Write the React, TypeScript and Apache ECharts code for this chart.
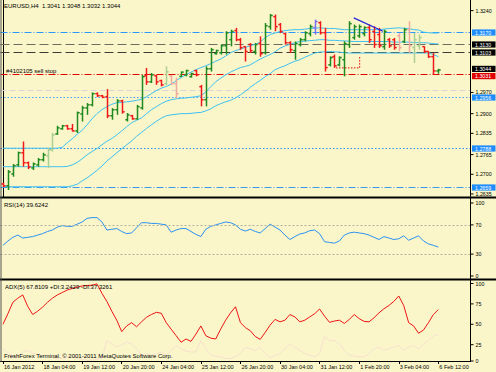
import React, { useEffect, useRef } from 'react';
import * as echarts from 'echarts';

const FONT = "'Liberation Sans', Arial, sans-serif";
const BG = '#faf6c9';

const SLOT_COUNT = 95;
const timeTickLabels = ['16 Jan 2012', '18 Jan 04:00', '19 Jan 12:00', '20 Jan 20:00', '24 Jan 04:00', '25 Jan 12:00', '26 Jan 20:00', '30 Jan 04:00', '31 Jan 12:00', '1 Feb 20:00', '3 Feb 04:00', '6 Feb 12:00'];
const BARS_PER_TIME_TICK = 8;
// visible price scale labels (1.3170, 1.3105 and 1.3040 sit under the level boxes)
const priceTickLabels = ['1.3240', '1.2970', '1.2900', '1.2835', '1.2765', '1.2700', '1.2635'];
const rsiTickLabels = [100, 70, 30, 0];
const rsiLevels = [30, 70];
const adxTickLabels = [100, 75, 50, 25];

const barOpen = [1.2668, 1.2662, 1.2701, 1.2731, 1.2771, 1.2738, 1.2721, 1.2731, 1.2748, 1.2761,
  1.2781, 1.2833, 1.2850, 1.2860, 1.2850, 1.2843, 1.2899, 1.2919, 1.2929, 1.2966,
  1.2959, 1.2956, 1.2893, 1.2913, 1.2942, 1.2880, 1.2893, 1.2883, 1.2919, 1.3025,
  1.3005, 1.3025, 1.3009, 1.2999, 1.3025, 1.2999, 1.3023, 1.3028, 1.3022, 1.3042,
  1.2989, 1.2946, 1.3048, 1.3098, 1.3101, 1.3124, 1.3144, 1.3174, 1.3144, 1.3121,
  1.3128, 1.3105, 1.3131, 1.3101, 1.3187, 1.3220, 1.3194, 1.3164, 1.3134, 1.3108,
  1.3128, 1.3144, 1.3164, 1.3184, 1.3200, 1.3167, 1.3061, 1.3088, 1.3061, 1.3078,
  1.3128, 1.3151, 1.3157, 1.3164, 1.3184, 1.3171, 1.3161, 1.3121, 1.3144, 1.3144,
  1.3157, 1.3138, 1.3177, 1.3118, 1.3124, 1.3121, 1.3105, 1.3088, 1.3041];
const barHigh = [1.2672, 1.2714, 1.2734, 1.2775, 1.2808, 1.2742, 1.2739, 1.2754, 1.2771, 1.2787,
  1.2837, 1.2860, 1.2863, 1.2863, 1.2866, 1.2907, 1.2926, 1.2935, 1.2970, 1.2970,
  1.2962, 1.2981, 1.2918, 1.2948, 1.2946, 1.2902, 1.2896, 1.2929, 1.3028, 1.3051,
  1.3034, 1.3028, 1.3012, 1.3056, 1.3028, 1.3019, 1.3039, 1.3045, 1.3035, 1.3045,
  1.2995, 1.3056, 1.3117, 1.3111, 1.3128, 1.3172, 1.3177, 1.3183, 1.3150, 1.3122,
  1.3133, 1.3133, 1.3155, 1.3199, 1.3229, 1.3227, 1.3199, 1.3167, 1.3139, 1.3138,
  1.3150, 1.3172, 1.3194, 1.3210, 1.3205, 1.3183, 1.3089, 1.3095, 1.3089, 1.3139,
  1.3205, 1.3194, 1.3194, 1.3188, 1.3194, 1.3188, 1.3183, 1.3177, 1.3150, 1.3150,
  1.3166, 1.3183, 1.3205, 1.3166, 1.3161, 1.3122, 1.3106, 1.3100, 1.3048];
const barLow = [1.2658, 1.2648, 1.2692, 1.2725, 1.2725, 1.2717, 1.2714, 1.2725, 1.2742, 1.2721,
  1.2775, 1.2830, 1.2847, 1.2847, 1.2841, 1.2836, 1.2874, 1.2896, 1.2924, 1.2955,
  1.2951, 1.2885, 1.2880, 1.2896, 1.2900, 1.2874, 1.2880, 1.2880, 1.2913, 1.2995,
  1.3001, 1.2995, 1.2990, 1.2995, 1.2995, 1.2951, 1.3022, 1.3023, 1.3019, 1.3023,
  1.2924, 1.2924, 1.3039, 1.3095, 1.3095, 1.3095, 1.3122, 1.3139, 1.3111, 1.3072,
  1.3100, 1.3095, 1.3088, 1.3095, 1.3177, 1.3172, 1.3166, 1.3128, 1.3100, 1.3078,
  1.3122, 1.3139, 1.3155, 1.3161, 1.3161, 1.3039, 1.3056, 1.3051, 1.3056, 1.3023,
  1.3117, 1.3144, 1.3150, 1.3155, 1.3133, 1.3117, 1.3117, 1.3111, 1.3117, 1.3111,
  1.3106, 1.3133, 1.3100, 1.3067, 1.3111, 1.3100, 1.3084, 1.3030, 1.3032];
const barClose = [1.2662, 1.2708, 1.2728, 1.2771, 1.2738, 1.2724, 1.2734, 1.2748, 1.2764, 1.2781,
  1.2830, 1.2853, 1.2860, 1.2850, 1.2843, 1.2903, 1.2919, 1.2929, 1.2966, 1.2959,
  1.2954, 1.2893, 1.2913, 1.2942, 1.2906, 1.2896, 1.2883, 1.2923, 1.3022, 1.3005,
  1.3028, 1.3005, 1.2995, 1.3038, 1.2999, 1.2966, 1.3037, 1.3042, 1.3032, 1.3028,
  1.2946, 1.3048, 1.3111, 1.3108, 1.3124, 1.3167, 1.3171, 1.3144, 1.3118, 1.3105,
  1.3108, 1.3128, 1.3098, 1.3190, 1.3224, 1.3187, 1.3171, 1.3134, 1.3111, 1.3131,
  1.3144, 1.3167, 1.3187, 1.3204, 1.3167, 1.3052, 1.3085, 1.3058, 1.3085, 1.3131,
  1.3197, 1.3187, 1.3187, 1.3184, 1.3144, 1.3128, 1.3124, 1.3171, 1.3124, 1.3118,
  1.3118, 1.3177, 1.3124, 1.3144, 1.3151, 1.3105, 1.3088, 1.3041, 1.3044];
const fadedBars = [9, 10, 33, 34, 35, 80, 82, 83, 84];
const highlightedBar = 63;

const bandUpper = [1.2786, 1.2786, 1.2786, 1.2786, 1.2786, 1.2786, 1.2786, 1.2786, 1.2786, 1.2786,
  1.2786, 1.2786, 1.2789, 1.2804, 1.2817, 1.2832, 1.2845, 1.2863, 1.2883, 1.2900,
  1.2913, 1.2923, 1.2931, 1.2936, 1.2937, 1.2939, 1.2941, 1.2944, 1.2947, 1.2956,
  1.2966, 1.2976, 1.2984, 1.2990, 1.2997, 1.3009, 1.3019, 1.3028, 1.3037, 1.3045,
  1.3052, 1.3058, 1.3065, 1.3073, 1.3080, 1.3090, 1.3101, 1.3108, 1.3113, 1.3119,
  1.3124, 1.3129, 1.3136, 1.3151, 1.3161, 1.3166, 1.3171, 1.3174, 1.3176, 1.3177,
  1.3177, 1.3179, 1.3181, 1.3182, 1.3183, 1.3182, 1.3181, 1.3181, 1.3179, 1.3177,
  1.3177, 1.3177, 1.3177, 1.3177, 1.3177, 1.3177, 1.3177, 1.3179, 1.3181, 1.3182,
  1.3183, 1.3182, 1.3181, 1.3177, 1.3176, 1.3169, 1.3167, 1.3166, 1.3166];
const bandMiddle = [1.2725, 1.2725, 1.2725, 1.2725, 1.2725, 1.2725, 1.2725, 1.2725, 1.2725, 1.2725,
  1.2725, 1.2725, 1.2725, 1.2726, 1.2731, 1.2739, 1.2751, 1.2764, 1.2775, 1.2785,
  1.2797, 1.2809, 1.2818, 1.2830, 1.2843, 1.2857, 1.2870, 1.2878, 1.2886, 1.2900,
  1.2913, 1.2923, 1.2933, 1.2941, 1.2946, 1.2949, 1.2951, 1.2952, 1.2954, 1.2956,
  1.2959, 1.2972, 1.2989, 1.3005, 1.3017, 1.3028, 1.3037, 1.3045, 1.3052, 1.3056,
  1.3061, 1.3071, 1.3080, 1.3088, 1.3095, 1.3104, 1.3116, 1.3123, 1.3129, 1.3134,
  1.3138, 1.3139, 1.3141, 1.3142, 1.3144, 1.3144, 1.3142, 1.3142, 1.3141, 1.3140,
  1.3139, 1.3138, 1.3138, 1.3138, 1.3138, 1.3138, 1.3138, 1.3138, 1.3138, 1.3136,
  1.3136, 1.3136, 1.3136, 1.3135, 1.3134, 1.3134, 1.3133, 1.3131, 1.3130];
const bandLower = [1.2659, 1.2659, 1.2659, 1.2659, 1.2659, 1.2659, 1.2659, 1.2659, 1.2659, 1.2659,
  1.2659, 1.2659, 1.2659, 1.2659, 1.2662, 1.2667, 1.2678, 1.2688, 1.2700, 1.2713,
  1.2727, 1.2744, 1.2757, 1.2771, 1.2784, 1.2797, 1.2810, 1.2825, 1.2838, 1.2851,
  1.2863, 1.2875, 1.2885, 1.2893, 1.2896, 1.2898, 1.2900, 1.2900, 1.2901, 1.2903,
  1.2904, 1.2909, 1.2916, 1.2926, 1.2933, 1.2939, 1.2944, 1.2952, 1.2962, 1.2974,
  1.2987, 1.2999, 1.3010, 1.3022, 1.3032, 1.3045, 1.3052, 1.3058, 1.3066, 1.3073,
  1.3078, 1.3086, 1.3093, 1.3100, 1.3103, 1.3104, 1.3105, 1.3104, 1.3103, 1.3101,
  1.3100, 1.3100, 1.3100, 1.3100, 1.3100, 1.3100, 1.3100, 1.3100, 1.3100, 1.3100,
  1.3100, 1.3100, 1.3100, 1.3100, 1.3100, 1.3100, 1.3100, 1.3095, 1.3088];

const rsiValues = [42, 48, 53, 56, 52, 53, 54, 56, 58, 61,
  63, 67, 69, 68, 68, 71, 74, 79, 80, 80,
  74, 63, 64, 65, 61, 58, 59, 66, 73, 73,
  72, 72, 71, 70, 60, 63, 65, 65, 61, 57,
  54, 64, 68, 70, 72, 74, 73, 70, 64, 61.6,
  64, 61, 59, 65, 71, 67, 63, 56, 50, 54,
  57.5, 59, 62, 63, 58, 47, 46, 45, 48, 56,
  59, 60, 59, 58, 56, 53, 50, 54, 52, 50,
  51, 55, 49, 52, 55, 48, 44, 42, 39.6];
const adxValues = [50, 63, 77, 82, 86, 72, 62, 66, 71, 77,
  82, 86, 89, 92, 94, 95.5, 97, 97.5, 98, 99.5,
  88, 78, 66, 55, 41, 48, 52, 47, 53, 58.5,
  62, 64.7, 63.5, 52, 44, 36, 28, 32, 29, 38,
  48, 36, 33, 32, 44, 55, 64, 71.5, 52, 46,
  42, 35, 31.5, 40, 49, 56, 53, 55, 62, 59,
  53, 55, 59, 63, 68.7, 60, 52.4, 54, 55, 51,
  56, 62, 57, 53.5, 53, 58, 64, 69, 73, 78,
  84.7, 73, 52, 48, 39, 43, 52, 62, 68];
const minusDiValues = [20, 15, 12, 10, 16, 18, 15, 13, 11, 12,
  9, 8, 8, 9, 10, 8, 7, 6, 6, 7,
  8, 30, 26, 22, 25, 28, 26, 20, 12, 14,
  12, 14, 16, 12, 18, 24, 20, 17, 16, 16,
  30, 20, 12, 11, 10, 8, 8, 10, 14, 22,
  20, 18, 22, 14, 9, 12, 14, 20, 26, 22,
  18, 14, 12, 10, 14, 35, 30, 30, 26, 18,
  12, 11, 10, 10, 14, 20, 22, 18, 20, 22,
  24, 18, 22, 24, 20, 26, 30, 36, 37.3];

const levelPrices = [1.3170, 1.3130, 1.3103, 1.3044, 1.3031, 1.2978, 1.2956, 1.2788, 1.2659];
const levelLabels = ['1.3170', '1.3130', '1.3103', '1.3044', '1.3031', '', '1.2956', '1.2788', '1.2659'];
const sellStopLevel = 4;
const sellStopText = '#4102105 sell stop';
const trendLine = [[70.9, 1.3216], [76.8, 1.3172]];
const tradeLine = [[67.3, 1.3051], [72.1, 1.3051], [72.1, 1.3089]];

const rsiHeader = 'RSI(14) 39.6242';
const adxHeader = 'ADX(5) 67.8109 +DI:3.2429 -DI:37.3261';
const footerText = 'FreshForex Terminal. \u00a9 2001-2011 MetaQuotes Software Corp.';

const BLUE_BOX = '#1e8cff';
const levelStyles = [
  { color: '#2c97ff', dash: [7, 2, 1, 2], box: BLUE_BOX, shift: 0 },
  { color: '#6e6e60', dash: [9, 4], box: '#000', shift: 0 },
  { color: '#3c3c34', dash: [9, 4], box: '#000', shift: 0 },
  { color: '', dash: null, box: '#000', shift: -1.6 },
  { color: '#e00000', dash: [7, 2, 1, 2], box: '#e00000', shift: 1.6 },
  { color: '#dcd3dc', dash: [6, 3], box: '', shift: 0 },
  { color: '#4aa2f5', dash: [1.5, 2], box: BLUE_BOX, shift: 0 },
  { color: '#2e8df0', dash: [1.5, 2], box: BLUE_BOX, shift: 0 },
  { color: '#3d9ae6', dash: [7, 2, 1, 2], box: BLUE_BOX, shift: 0 },
];

const tickRich = {
  t: { width: 3, height: 1, backgroundColor: '#000', fontSize: 1, lineHeight: 1 },
  v: { padding: [0, 0, 0, 2], fontSize: 5.3, color: '#000', fontFamily: FONT },
};
const tickFmt = (txt: string) => `{t| }{v|${txt}}`;

function buildOption() {
  const slots = Array.from({ length: SLOT_COUNT }, (_, i) => String(i));
  const ohlc = barOpen.map((o, i) => [i, o, barHigh[i], barLow[i], barClose[i]]);
  const lastIdx = barOpen.length - 1;
  const header = `EURUSD,H4  ${barOpen[lastIdx].toFixed(4)} ${barHigh[lastIdx].toFixed(4)} ${barLow[lastIdx].toFixed(4)} ${barClose[lastIdx].toFixed(4)}`;

  const isTimeTick = (index: number) => index % BARS_PER_TIME_TICK === 0 && index / BARS_PER_TIME_TICK < timeTickLabels.length;

  const bandSeries = (data: number[]) => ({
    type: 'line', xAxisIndex: 0, yAxisIndex: 0, data: data.map((v, i) => [i, v]),
    showSymbol: false, symbol: 'none', lineStyle: { color: '#3fc0f2', width: 1 }, z: 3,
  });

  return {
    animation: false,
    backgroundColor: BG,
    textStyle: { fontFamily: FONT },
    grid: [
      { left: 0.5, right: 25.5, top: 0, height: 197, outerBoundsMode: 'none', containLabel: false },
      { left: 0.5, right: 25.5, top: 203, height: 73, outerBoundsMode: 'none', containLabel: false },
      { left: 0.5, right: 25.5, top: 283.5, height: 77.5, outerBoundsMode: 'none', containLabel: false },
    ],
    xAxis: [
      { gridIndex: 0, type: 'value', min: -0.5, max: SLOT_COUNT - 0.5, show: false },
      { gridIndex: 1, type: 'category', data: slots, show: false },
      {
        gridIndex: 2, type: 'category', data: slots,
        axisLine: { show: true, lineStyle: { color: '#000', width: 1 } },
        axisTick: { show: true, alignWithLabel: true, interval: (i: number) => isTimeTick(i), length: 3, lineStyle: { color: '#000' } },
        axisLabel: {
          interval: (i: number) => isTimeTick(i),
          formatter: (_v: string, i: number) => (isTimeTick(i) ? timeTickLabels[i / BARS_PER_TIME_TICK] : ''),
          align: 'left', margin: 3, fontSize: 5.5, color: '#000', fontFamily: FONT, padding: [0, 0, 0, 1],
        },
        splitLine: { show: false },
      },
    ],
    yAxis: [
      {
        gridIndex: 0, type: 'value', position: 'right', min: 1.2625, max: 1.3275, interval: 0.0005,
        axisLine: { show: true, lineStyle: { color: '#000' } }, axisTick: { show: false }, splitLine: { show: false },
        axisLabel: {
          margin: 0, rich: tickRich,
          formatter: (v: number) => {
            const k = Math.round(v * 10000);
            const hit = priceTickLabels.find((s) => Math.round(parseFloat(s) * 10000) === k);
            return hit ? tickFmt(hit) : '';
          },
        },
      },
      {
        gridIndex: 1, type: 'value', position: 'right', min: 0, max: 100, interval: 10,
        axisLine: { show: true, lineStyle: { color: '#000' } }, axisTick: { show: false }, splitLine: { show: false },
        axisLabel: { margin: 0, rich: tickRich, formatter: (v: number) => (rsiTickLabels.includes(v) ? tickFmt(String(v)) : '') },
      },
      {
        gridIndex: 2, type: 'value', position: 'right', min: 5, max: 100, interval: 5,
        axisLine: { show: true, lineStyle: { color: '#000' } }, axisTick: { show: false }, splitLine: { show: false },
        axisLabel: {
          margin: 0, rich: tickRich,
          formatter: (v: number) => (v === 5 ? tickFmt('0') : adxTickLabels.includes(v) ? tickFmt(String(v)) : ''),
        },
      },
    ],
    series: [
      {
        type: 'custom', xAxisIndex: 0, yAxisIndex: 0, z: 2, clip: false, silent: true,
        data: levelPrices.map((p, k) => [k, p]),
        encode: { x: 0, y: 1 },
        renderItem: (params: any, api: any) => {
          const k = params.dataIndex;
          const p = api.value(1);
          const a = api.coord([-0.5, p]);
          const b = api.coord([SLOT_COUNT - 0.5, p]);
          const y = Math.round(a[1]) + 0.5;
          const st = levelStyles[k];
          const children: any[] = [];
          if (st.color) {
            children.push({
              type: 'line', shape: { x1: a[0], y1: y, x2: b[0], y2: y },
              style: { stroke: st.color, lineWidth: 1, lineDash: st.dash },
            });
          }
          if (levelLabels[k]) {
            const yc = y + st.shift;
            children.push({ type: 'rect', shape: { x: b[0] + 1.5, y: yc - 3.1, width: 23.5, height: 6.2 }, style: { fill: st.box } });
            children.push({
              type: 'text', x: b[0] + 4.5, y: yc + 0.3,
              style: { text: levelLabels[k], fill: '#fff', fontSize: 5.3, fontFamily: FONT, verticalAlign: 'middle' },
            });
          }
          if (k === sellStopLevel) {
            children.push({
              type: 'text', x: a[0] + 5.5, y: y - 4,
              style: { text: sellStopText, fill: '#000', fontSize: 6, fontFamily: FONT, verticalAlign: 'middle' },
            });
          }
          return { type: 'group', children };
        },
      },
      bandSeries(bandUpper),
      bandSeries(bandMiddle),
      bandSeries(bandLower),
      {
        type: 'custom', xAxisIndex: 0, yAxisIndex: 0, data: ohlc, z: 5,
        encode: { x: 0, y: [1, 2, 3, 4] },
        renderItem: (_p: any, api: any) => {
          const i = api.value(0);
          const o = api.value(1), h = api.value(2), l = api.value(3), c = api.value(4);
          const ph = api.coord([i, h]);
          const pl = api.coord([i, l]);
          const po = api.coord([i, o]);
          const pc = api.coord([i, c]);
          const x = Math.round(ph[0]) + 0.5;
          const up = c >= o;
          let color = up ? '#1f8a1f' : '#f01a1a';
          if (fadedBars.includes(i)) color = up ? '#a9cf92' : '#f2a9a0';
          if (i === highlightedBar) color = '#7d6cf2';
          const style = { stroke: color, lineWidth: 1.5 };
          return {
            type: 'group',
            children: [
              { type: 'line', shape: { x1: x, y1: ph[1], x2: x, y2: pl[1] }, style },
              { type: 'line', shape: { x1: x - 2.2, y1: po[1], x2: x, y2: po[1] }, style },
              { type: 'line', shape: { x1: x, y1: pc[1], x2: x + 2.2, y2: pc[1] }, style },
            ],
          };
        },
      },
      {
        type: 'line', xAxisIndex: 0, yAxisIndex: 0, data: trendLine, showSymbol: false, symbol: 'none',
        lineStyle: { color: '#2424d8', width: 1.2 }, z: 6,
      },
      {
        type: 'line', xAxisIndex: 0, yAxisIndex: 0, data: tradeLine, showSymbol: false, symbol: 'none',
        lineStyle: { color: '#e00000', width: 1, type: [1.5, 1.5] }, z: 6,
      },
      {
        type: 'line', xAxisIndex: 1, yAxisIndex: 1, data: rsiValues, showSymbol: false, symbol: 'none',
        lineStyle: { color: '#2b92f2', width: 1 },
        markLine: {
          silent: true, symbol: ['none', 'none'], label: { show: false },
          lineStyle: { color: '#b4b0a0', type: [2, 2], width: 1 },
          data: rsiLevels.map((v) => ({ yAxis: v })),
        },
      },
      {
        type: 'line', xAxisIndex: 2, yAxisIndex: 2, data: minusDiValues, showSymbol: false, symbol: 'none',
        lineStyle: { color: '#f6e0cf', width: 1 },
      },
      {
        type: 'line', xAxisIndex: 2, yAxisIndex: 2, data: adxValues, showSymbol: false, symbol: 'none',
        lineStyle: { color: '#ee1414', width: 1 },
      },
    ],
    graphic: [
      { type: 'line', shape: { x1: 0, y1: 197.5, x2: 496, y2: 197.5 }, style: { stroke: '#000', lineWidth: 2 }, z: 100 },
      { type: 'line', shape: { x1: 0, y1: 279.5, x2: 496, y2: 279.5 }, style: { stroke: '#000', lineWidth: 2 }, z: 100 },
      { type: 'line', shape: { x1: 1, y1: 0, x2: 1, y2: 361.5 }, style: { stroke: '#555', lineWidth: 1 }, z: 100 },
      { type: 'line', shape: { x1: 470.5, y1: 0, x2: 470.5, y2: 361.5 }, style: { stroke: '#000', lineWidth: 1 }, z: 100 },
      { type: 'text', x: 4, y: 6, style: { text: header, fontSize: 6, fontFamily: FONT, fill: '#000', verticalAlign: 'middle' }, z: 100 },
      { type: 'text', x: 4, y: 204.5, style: { text: rsiHeader, fontSize: 6, fontFamily: FONT, fill: '#000', verticalAlign: 'middle' }, z: 100 },
      { type: 'text', x: 5, y: 286.5, style: { text: adxHeader, fontSize: 6, fontFamily: FONT, fill: '#000', verticalAlign: 'middle' }, z: 100 },
      { type: 'text', x: 4, y: 356, style: { text: footerText, fontSize: 6, fontFamily: FONT, fill: '#000', verticalAlign: 'middle' }, z: 100 },
    ],
  };
}

export default function App() {
  const ref = useRef<HTMLDivElement>(null);
  useEffect(() => {
    if (!ref.current) return;
    const chart = echarts.init(ref.current, undefined, { renderer: 'svg' });
    chart.setOption(buildOption() as any);
    return () => chart.dispose();
  }, []);
  return (
    <div
      ref={ref}
      style={{ position: 'fixed', left: 0, top: 0, width: 496, height: 372, background: BG }}
    />
  );
}
